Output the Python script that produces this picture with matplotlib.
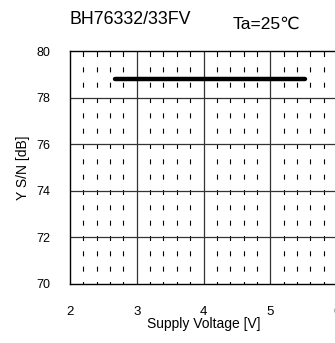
import numpy as np
import matplotlib
matplotlib.use("Agg")
import matplotlib.pyplot as plt

plt.rcParams["font.family"] = ["Liberation Sans", "DejaVu Sans"]
plt.rcParams["lines.scale_dashes"] = False

# data
supply_v = [2.67, 5.52]
sn_db = [78.8, 78.8]

x_major = [2, 3, 4, 5, 6]
y_major = [70, 72, 74, 76, 78, 80]
x_minor = [v + d for v in [2, 3, 4, 5] for d in (0.2, 0.4, 0.6, 0.8)]

fig = plt.figure(figsize=(3.35, 3.43), dpi=100)
ax = fig.add_axes([70 / 335, 59 / 343, 267 / 335, 233 / 343])
ax.set_xlim(2, 6)
ax.set_ylim(70, 80)

# px -> pt at 100 dpi
px = 0.72
ax.vlines(x_minor, 70, 80, colors="black", linewidth=0.8,
          linestyles=[(2.5 * px, (5 * px, 10.33 * px))], zorder=1)
ax.vlines(x_major[1:4], 70, 80, colors="#333333", linewidth=0.9, zorder=1)
ax.hlines(y_major[1:5], 2, 6, colors="#333333", linewidth=0.9, zorder=1)

ax.plot(supply_v, sn_db, color="black", linewidth=3.2,
        solid_capstyle="round", zorder=3)

for s in ax.spines.values():
    s.set_linewidth(1.0)
ax.spines["right"].set_visible(False)

narrow = ["Liberation Sans Narrow", "Liberation Sans", "DejaVu Sans"]
ax.set_xticks(x_major)
ax.set_yticks(y_major)
ax.set_xticklabels([str(v) for v in x_major], fontsize=9.5, family=narrow)
ax.set_yticklabels([str(v) for v in y_major], fontsize=9, family=narrow)
ax.tick_params(axis="x", length=0, pad=16)
ax.tick_params(axis="y", length=0, pad=14)

ax.set_xlabel("Supply Voltage [V]", fontsize=10, labelpad=-1)
ax.set_ylabel("Y S/N [dB]", fontsize=10, labelpad=5)

fig.text(130 / 335, 1 - 19 / 343, "BH76332/33FV", fontsize=12.8,
         ha="center", va="center")
fig.text(266 / 335, 1 - 24 / 343, "Ta=25\u2103", fontsize=12.5,
         ha="center", va="center", family=["Liberation Sans", "DejaVu Sans"])

fig.savefig("out.png", dpi=100)
